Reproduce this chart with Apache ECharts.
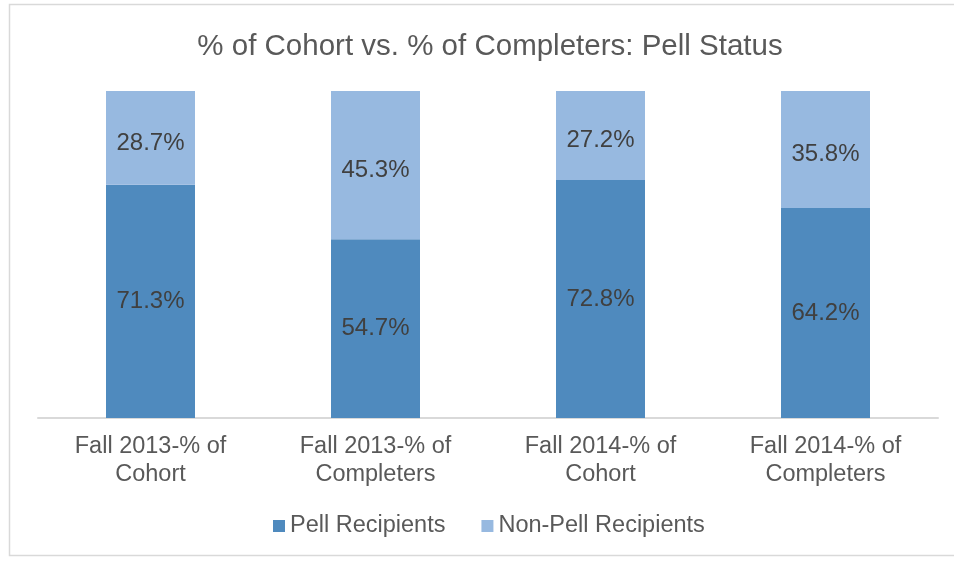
<!DOCTYPE html>
<html><head><meta charset="utf-8">
<script src="https://cdn.jsdelivr.net/npm/echarts@6/dist/echarts.min.js"></script>
<style>html,body{margin:0;padding:0;background:#fff}#c{width:954px;height:562px}</style>
</head><body><div id="c"></div>
<script>
const categories = ["Fall 2013-% of\nCohort", "Fall 2013-% of\nCompleters", "Fall 2014-% of\nCohort", "Fall 2014-% of\nCompleters"];
const pell = [71.3, 54.7, 72.8, 64.2];
const nonPell = [28.7, 45.3, 27.2, 35.8];
const seriesNames = ["Pell Recipients", "Non-Pell Recipients"];
const titleText = "% of Cohort vs. % of Completers: Pell Status";

const font = "Liberation Sans, Arial, sans-serif";
const chart = echarts.init(document.getElementById('c'), null, {renderer: 'canvas'});
const lbl = {show: true, position: 'inside', fontSize: 24, color: '#404040', fontFamily: font, formatter: p => p.value.toFixed(1) + '%'};
chart.setOption({
  animation: false,
  graphic: [{type: 'rect', shape: {x: 9.5, y: 4.5, width: 960, height: 551}, style: {fill: 'none', stroke: '#d9d9d9', lineWidth: 1.5}, silent: true}],
  title: {text: titleText, left: 485, textAlign: 'center', top: 27, textStyle: {fontSize: 29.5, fontWeight: 'normal', color: '#595959', fontFamily: font}},
  legend: {top: 514, left: 273, padding: 0, itemWidth: 12, itemHeight: 12, itemGap: 36, icon: 'rect',
    textStyle: {fontSize: 23.5, color: '#595959', fontFamily: font}, data: seriesNames},
  grid: {left: 38, right: 16, top: 91, bottom: 144, containLabel: false},
  xAxis: {type: 'category', data: categories,
    axisLine: {lineStyle: {color: '#d9d9d9', width: 2}}, axisTick: {show: false},
    axisLabel: {fontSize: 23.5, color: '#595959', fontFamily: font, lineHeight: 28, margin: 15, interval: 0}},
  yAxis: {type: 'value', min: 0, max: 100, show: false, splitLine: {show: false}},
  series: [
    {name: seriesNames[0], type: 'bar', stack: 'a', data: pell, barWidth: 89, itemStyle: {color: '#4F8ABE'}, label: lbl},
    {name: seriesNames[1], type: 'bar', stack: 'a', data: nonPell, barWidth: 89, itemStyle: {color: '#97B9E0'}, label: Object.assign({}, lbl, {offset: [0, 5]})}
  ]
});
</script></body></html>
